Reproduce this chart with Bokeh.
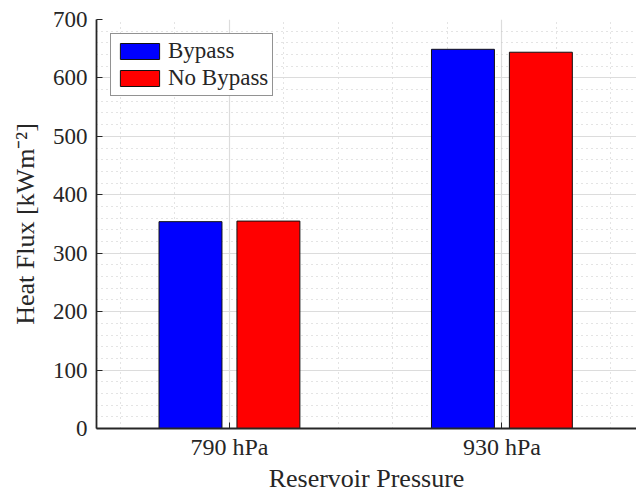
from bokeh.plotting import figure
from bokeh.models import ColumnDataSource, FixedTicker, Range1d
from bokeh.transform import dodge
from bokeh.embed import file_html
from bokeh.resources import INLINE

# ---- data ----
pressures = ["790", "930"]
unit = "hPa"
series_names = ["Bypass", "No Bypass"]
bypass = [354, 649]
no_bypass = [355, 644]
y_ticks = [0, 100, 200, 300, 400, 500, 600, 700]
x_title = "Reservoir Pressure"
y_title = "Heat Flux [kWm\u207b\u00b2]"

FONT = "Liberation Serif"
TXT = "#262626"

xpos = list(range(1, len(pressures) + 1))
src = ColumnDataSource(dict(x=xpos, bypass=bypass, nobypass=no_bypass))

p = figure(width=636, height=496, output_backend="svg", toolbar_location=None,
           x_range=Range1d(0.512, 2.494), y_range=Range1d(0, 700),
           min_border_left=96, min_border_right=0, min_border_top=19,
           min_border_bottom=68, outline_line_color=None,
           background_fill_color="white", border_fill_color="white")

offset = 0.143
width = 0.231
p.vbar(x=dodge("x", -offset), top="bypass", width=width, bottom=0, source=src,
       fill_color="#0000ff", line_color="#111111", line_width=1,
       legend_label=series_names[0])
p.vbar(x=dodge("x", offset), top="nobypass", width=width, bottom=0, source=src,
       fill_color="#ff0000", line_color="#111111", line_width=1,
       legend_label=series_names[1])

# ---- axes ----
xminor = [0.6, 0.8, 1.2, 1.4, 1.6, 1.8, 2.2, 2.4]
p.xaxis.ticker = FixedTicker(ticks=xpos, minor_ticks=xminor)
p.xaxis.major_label_overrides = {xp: f"{pr} {unit}" for xp, pr in zip(xpos, pressures)}
p.yaxis.ticker = FixedTicker(ticks=y_ticks, minor_ticks=list(range(0, 701, 20)))

for ax in (p.xaxis[0], p.yaxis[0]):
    ax.axis_line_color = TXT
    ax.axis_line_width = 1.8
    ax.major_tick_line_color = TXT
    ax.major_tick_in = 6
    ax.major_tick_out = 0
    ax.minor_tick_in = 0
    ax.minor_tick_out = 0
    ax.major_label_text_font = FONT
    ax.major_label_text_color = TXT
    ax.axis_label_text_font = FONT
    ax.axis_label_text_color = TXT
    ax.axis_label_text_font_style = "normal"
    ax.axis_label_text_font_size = "26px"

p.yaxis.major_label_text_font_size = "23px"
p.yaxis.major_label_standoff = 9
p.yaxis.axis_label = y_title
p.yaxis.axis_label_standoff = 10

p.xaxis.major_label_text_font_size = "24px"
p.xaxis.major_label_standoff = 5
p.xaxis.axis_label = x_title
p.xaxis.axis_label_standoff = 1

# ---- grid ----
for g in (p.xgrid[0], p.ygrid[0]):
    g.grid_line_color = "#dcdcdc"
    g.grid_line_width = 1.2
    g.minor_grid_line_color = "#c8c8c8"
    g.minor_grid_line_dash = "1 4"
    g.minor_grid_line_width = 1

# ---- legend ----
lg = p.legend[0]
lg.location = "top_left"
lg.margin = 14
lg.padding = 4
lg.spacing = 1
lg.glyph_width = 49
lg.glyph_height = 20
lg.label_standoff = 4
lg.label_height = 20
lg.label_text_font = FONT
lg.label_text_font_size = "23px"
lg.label_text_color = TXT
lg.border_line_color = TXT
lg.border_line_width = 1
lg.background_fill_color = "white"
lg.background_fill_alpha = 1

open("out.html", "w").write(file_html(p, INLINE))
